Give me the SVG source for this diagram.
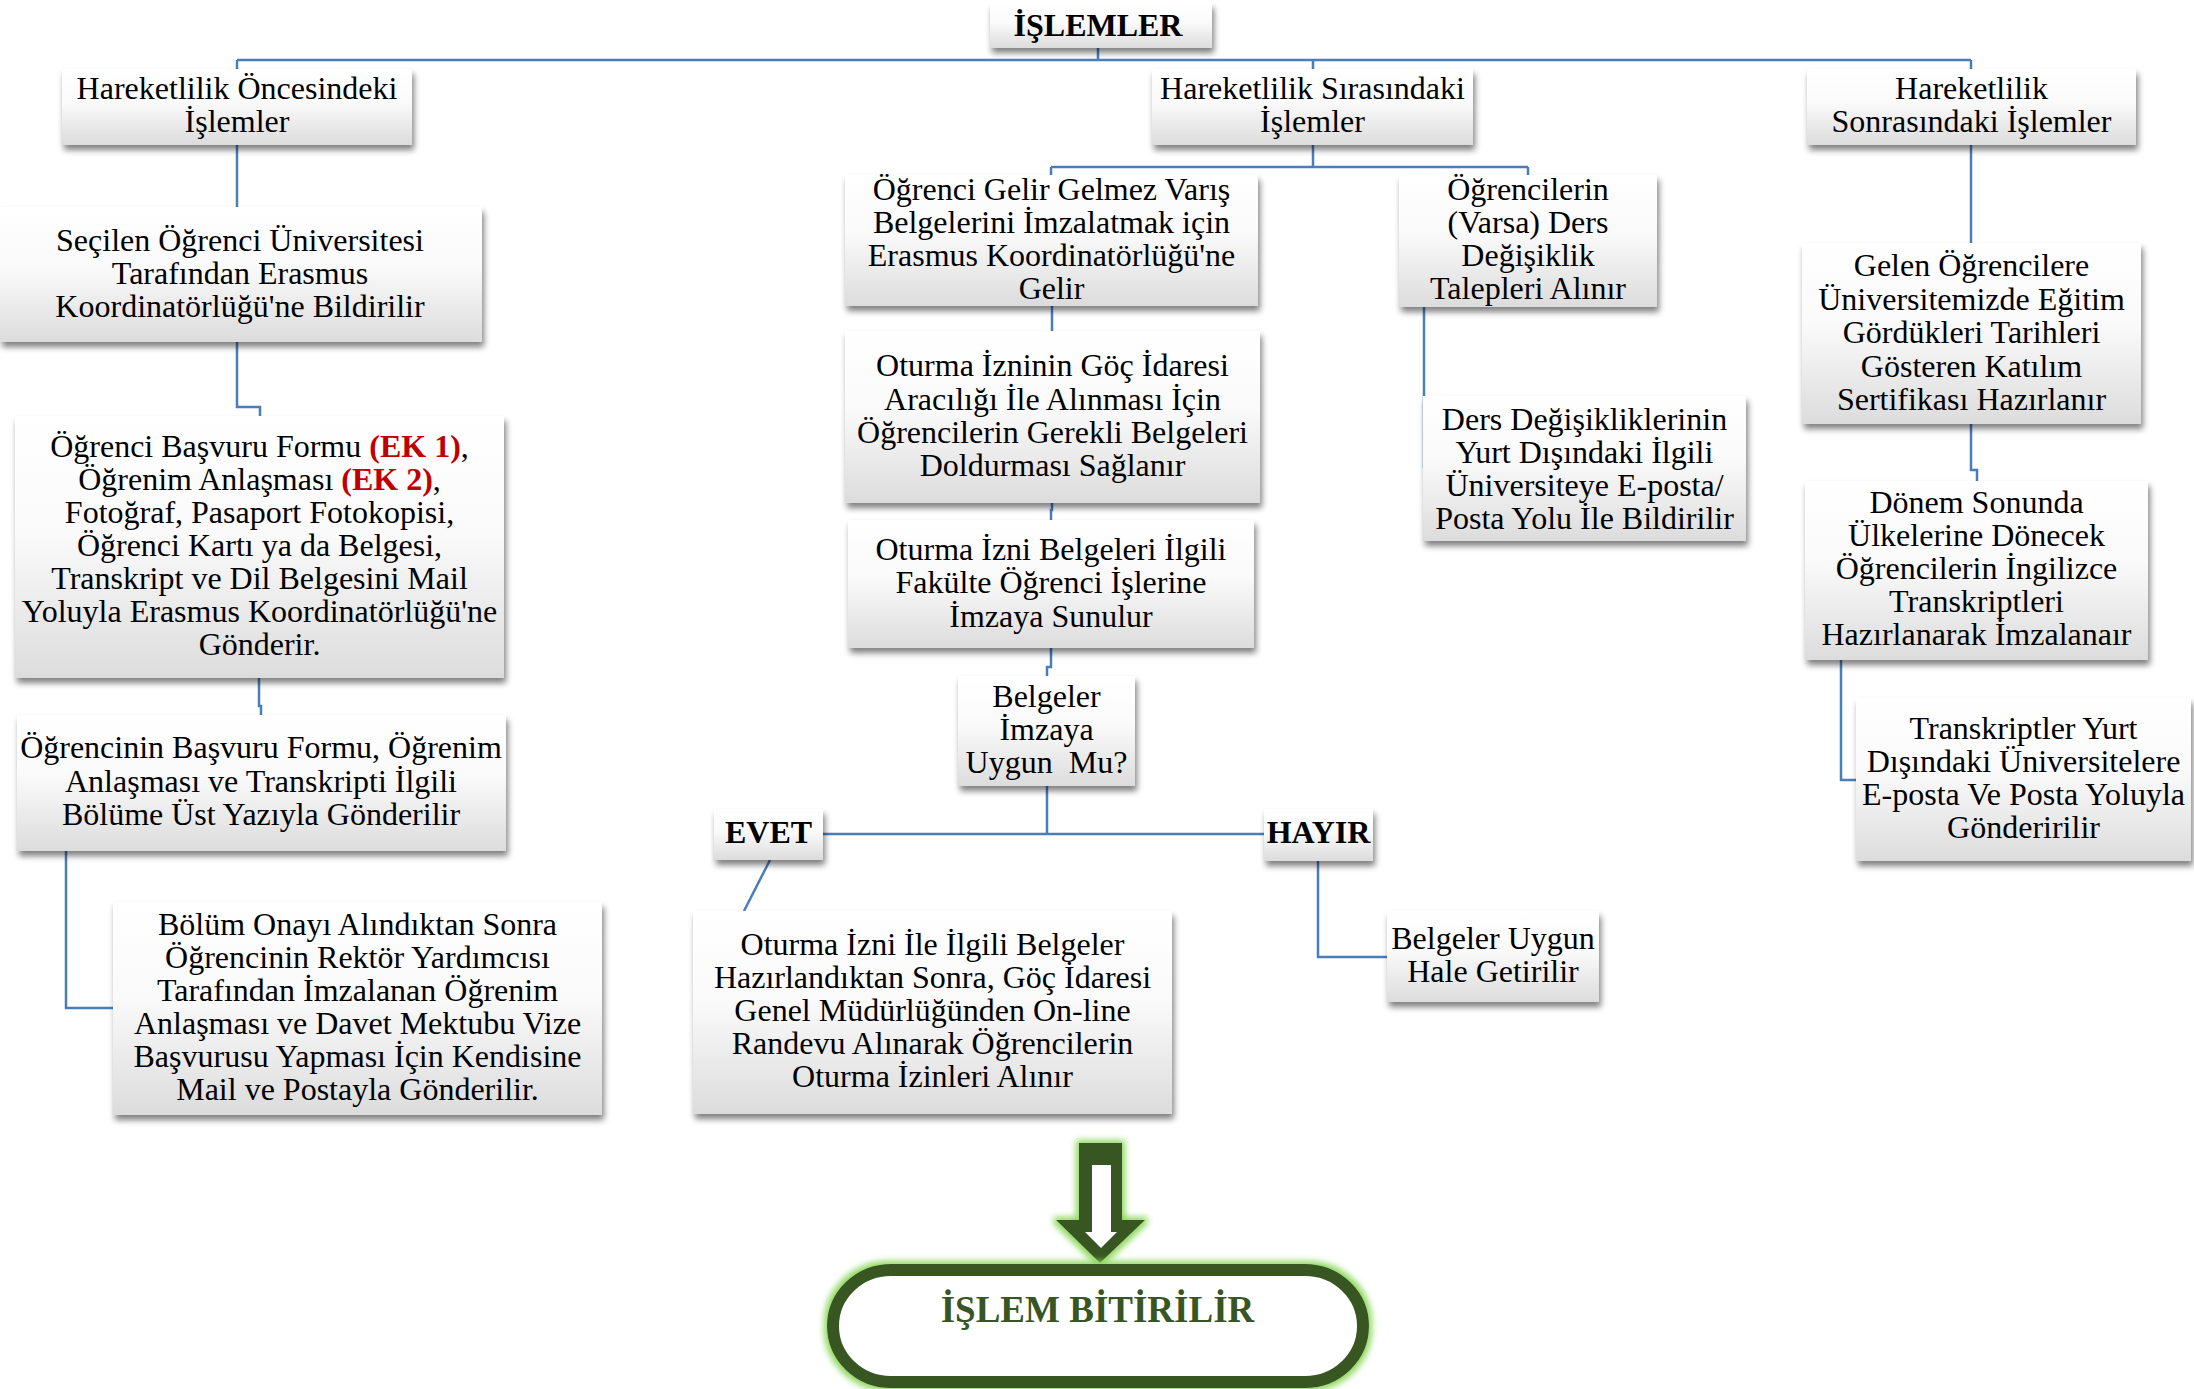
<svg xmlns="http://www.w3.org/2000/svg" width="2194" height="1389" viewBox="0 0 2194 1389">
<style>
.box{fill:url(#bg);filter:url(#sh)}
.t{font-family:'Liberation Serif','Times New Roman',serif;font-size:32px;text-anchor:middle;fill:#000}
.b{font-weight:bold}
.red{fill:#C00000;font-weight:bold}
.c{fill:none;stroke:#4A7EBB;stroke-width:2.5}
.g{fill:#375623}
</style>
<defs>
<linearGradient id="bg" x1="0" y1="0" x2="0" y2="1">
<stop offset="0" stop-color="#ffffff"/>
<stop offset="0.45" stop-color="#fafafa"/>
<stop offset="1" stop-color="#dcdcdc"/>
</linearGradient>
<filter id="sh" x="-5%" y="-10%" width="115%" height="135%">
<feGaussianBlur in="SourceAlpha" stdDeviation="3"/>
<feOffset dx="2" dy="5"/>
<feComponentTransfer><feFuncA type="linear" slope="0.5"/></feComponentTransfer>
<feMerge><feMergeNode/><feMergeNode in="SourceGraphic"/></feMerge>
</filter>
<filter id="glow" x="-20%" y="-20%" width="140%" height="140%">
<feMorphology in="SourceAlpha" operator="dilate" radius="3" result="d"/>
<feGaussianBlur in="d" stdDeviation="3" result="bl"/>
<feFlood flood-color="#8FD860"/>
<feComposite in2="bl" operator="in" result="gl"/>
<feMerge><feMergeNode in="gl"/><feMergeNode in="SourceGraphic"/></feMerge>
</filter>
</defs>
<rect width="2194" height="1389" fill="#fff"/>

<g id="connectors">
<path class="c" d="M1098,48V60M237,60H1971M237,60V69M1313,60V69M1971,60V69"/>
<path class="c" d="M237,145V207"/>
<path class="c" d="M237,342V407H260V416"/>
<path class="c" d="M259,678V706H261V715"/>
<path class="c" d="M66,851V1008H113"/>
<path class="c" d="M1313,145V167M1051,167H1528M1051,167V175M1528,167V175"/>
<path class="c" d="M1052,306V331"/>
<path class="c" d="M1052,503V510H1051V520"/>
<path class="c" d="M1051,648V667H1047V676"/>
<path class="c" d="M1047,786V834M823,834H1264"/>
<path class="c" d="M770,860L744,911"/>
<path class="c" d="M1318,861V957H1387"/>
<path class="c" d="M1424,307V468"/>
<path class="c" d="M1971,145V243"/>
<path class="c" d="M1971,424V470H1977V481"/>
<path class="c" d="M1841,660V780H1856"/>
</g>

<g id="n-islemler">
<rect class="box" x="990" y="3" width="222" height="45"/>
<text class="t b" x="1098" y="36">İŞLEMLER</text>
</g>

<g id="n-oncesi">
<rect class="box" x="62" y="69" width="350" height="76"/>
<text class="t" x="237" y="99">Hareketlilik Öncesindeki</text>
<text class="t" x="237" y="132">İşlemler</text>
</g>

<g id="n-secilen">
<rect class="box" x="0" y="207" width="482" height="135"/>
<text class="t" x="240" y="251">Seçilen Öğrenci Üniversitesi</text>
<text class="t" x="240" y="284">Tarafından Erasmus</text>
<text class="t" x="240" y="317">Koordinatörlüğü'ne Bildirilir</text>
</g>

<g id="n-basvuru">
<rect class="box" x="15" y="416" width="489" height="262"/>
<text class="t" x="259.5" y="457">Öğrenci Başvuru Formu <tspan class="red">(EK 1)</tspan>,</text>
<text class="t" x="259.5" y="490">Öğrenim Anlaşması <tspan class="red">(EK 2)</tspan>,</text>
<text class="t" x="259.5" y="523">Fotoğraf, Pasaport Fotokopisi,</text>
<text class="t" x="259.5" y="556">Öğrenci Kartı ya da Belgesi,</text>
<text class="t" x="259.5" y="589">Transkript ve Dil Belgesini Mail</text>
<text class="t" x="259.5" y="622">Yoluyla Erasmus Koordinatörlüğü'ne</text>
<text class="t" x="259.5" y="655">Gönderir.</text>
</g>

<g id="n-ogrencinin">
<rect class="box" x="17" y="715" width="489" height="136"/>
<text class="t" x="261" y="758">Öğrencinin Başvuru Formu, Öğrenim</text>
<text class="t" x="261" y="792">Anlaşması ve Transkripti İlgili</text>
<text class="t" x="261" y="825">Bölüme Üst Yazıyla Gönderilir</text>
</g>

<g id="n-bolum">
<rect class="box" x="113" y="902" width="489" height="213"/>
<text class="t" x="357.5" y="935">Bölüm Onayı Alındıktan Sonra</text>
<text class="t" x="357.5" y="968">Öğrencinin Rektör Yardımcısı</text>
<text class="t" x="357.5" y="1001">Tarafından İmzalanan Öğrenim</text>
<text class="t" x="357.5" y="1034">Anlaşması ve Davet Mektubu Vize</text>
<text class="t" x="357.5" y="1067">Başvurusu Yapması İçin Kendisine</text>
<text class="t" x="357.5" y="1100">Mail ve Postayla Gönderilir.</text>
</g>

<g id="n-sirasinda">
<rect class="box" x="1152" y="69" width="321" height="76"/>
<text class="t" x="1312.5" y="99">Hareketlilik Sırasındaki</text>
<text class="t" x="1312.5" y="132">İşlemler</text>
</g>

<g id="n-gelir">
<rect class="box" x="845" y="175" width="413" height="131"/>
<text class="t" x="1051.5" y="200">Öğrenci Gelir Gelmez Varış</text>
<text class="t" x="1051.5" y="233">Belgelerini İmzalatmak için</text>
<text class="t" x="1051.5" y="266">Erasmus Koordinatörlüğü'ne</text>
<text class="t" x="1051.5" y="299">Gelir</text>
</g>

<g id="n-varsa">
<rect class="box" x="1399" y="175" width="258" height="132"/>
<text class="t" x="1528" y="200">Öğrencilerin</text>
<text class="t" x="1528" y="233">(Varsa) Ders</text>
<text class="t" x="1528" y="266">Değişiklik</text>
<text class="t" x="1528" y="299">Talepleri Alınır</text>
</g>

<g id="n-izninin">
<rect class="box" x="845" y="331" width="415" height="172"/>
<text class="t" x="1052.5" y="376">Oturma İzninin Göç İdaresi</text>
<text class="t" x="1052.5" y="410">Aracılığı İle Alınması İçin</text>
<text class="t" x="1052.5" y="443">Öğrencilerin Gerekli Belgeleri</text>
<text class="t" x="1052.5" y="476">Doldurması Sağlanır</text>
</g>

<g id="n-belgeleri">
<rect class="box" x="848" y="520" width="406" height="128"/>
<text class="t" x="1051" y="560">Oturma İzni Belgeleri İlgili</text>
<text class="t" x="1051" y="593">Fakülte Öğrenci İşlerine</text>
<text class="t" x="1051" y="627">İmzaya Sunulur</text>
</g>

<g id="n-uygunmu">
<rect class="box" x="958" y="676" width="177" height="110"/>
<text class="t" x="1046.5" y="707">Belgeler</text>
<text class="t" x="1046.5" y="740">İmzaya</text>
<text class="t" x="1046.5" y="773" xml:space="preserve">Uygun  Mu?</text>
</g>

<g id="n-evet">
<rect class="box" x="714" y="809" width="109" height="51"/>
<text class="t b" x="768.5" y="843">EVET</text>
</g>

<g id="n-hayir">
<rect class="box" x="1264" y="809" width="109" height="52"/>
<text class="t b" x="1318.5" y="843">HAYIR</text>
</g>

<g id="n-randevu">
<rect class="box" x="693" y="911" width="479" height="203"/>
<text class="t" x="932.5" y="955">Oturma İzni İle İlgili Belgeler</text>
<text class="t" x="932.5" y="988">Hazırlandıktan Sonra, Göç İdaresi</text>
<text class="t" x="932.5" y="1021">Genel Müdürlüğünden On-line</text>
<text class="t" x="932.5" y="1054">Randevu Alınarak Öğrencilerin</text>
<text class="t" x="932.5" y="1087">Oturma İzinleri Alınır</text>
</g>

<g id="n-uygunhale">
<rect class="box" x="1387" y="911" width="212" height="91"/>
<text class="t" x="1493" y="949">Belgeler Uygun</text>
<text class="t" x="1493" y="982">Hale Getirilir</text>
</g>

<g id="n-ders">
<rect class="box" x="1423" y="396" width="323" height="145"/>
<text class="t" x="1584.5" y="430">Ders Değişikliklerinin</text>
<text class="t" x="1584.5" y="463">Yurt Dışındaki İlgili</text>
<text class="t" x="1584.5" y="496">Üniversiteye E-posta/</text>
<text class="t" x="1584.5" y="529">Posta Yolu İle Bildirilir</text>
</g>

<g id="n-sonrasi">
<rect class="box" x="1807" y="69" width="329" height="76"/>
<text class="t" x="1971.5" y="99">Hareketlilik</text>
<text class="t" x="1971.5" y="132">Sonrasındaki İşlemler</text>
</g>

<g id="n-gelen">
<rect class="box" x="1802" y="243" width="339" height="181"/>
<text class="t" x="1971.5" y="276">Gelen Öğrencilere</text>
<text class="t" x="1971.5" y="310">Üniversitemizde Eğitim</text>
<text class="t" x="1971.5" y="343">Gördükleri Tarihleri</text>
<text class="t" x="1971.5" y="377">Gösteren Katılım</text>
<text class="t" x="1971.5" y="410">Sertifikası Hazırlanır</text>
</g>

<g id="n-donem">
<rect class="box" x="1805" y="481" width="343" height="179"/>
<text class="t" x="1976.5" y="513">Dönem Sonunda</text>
<text class="t" x="1976.5" y="546">Ülkelerine Dönecek</text>
<text class="t" x="1976.5" y="579">Öğrencilerin İngilizce</text>
<text class="t" x="1976.5" y="612">Transkriptleri</text>
<text class="t" x="1976.5" y="645">Hazırlanarak İmzalanaır</text>
</g>

<g id="n-transkript">
<rect class="box" x="1856" y="698" width="335" height="163"/>
<text class="t" x="2023.5" y="739">Transkriptler Yurt</text>
<text class="t" x="2023.5" y="772">Dışındaki Üniversitelere</text>
<text class="t" x="2023.5" y="805">E-posta Ve Posta Yoluyla</text>
<text class="t" x="2023.5" y="838">Gönderirilir</text>
</g>

<g id="n-arrow" filter="url(#glow)">
<path class="g" d="M1079,1143H1122V1220H1145L1100,1263L1056,1220H1079Z"/>
<path fill="#ffffff" d="M1092,1165H1111V1232H1117L1101,1248L1085,1232H1092Z"/>
</g>

<g id="n-bitir">
<rect x="833" y="1270" width="530" height="112" rx="58" ry="56" fill="#fff" stroke="#375623" stroke-width="12" filter="url(#glow)"/>
<text class="t b" x="1097.5" y="1322" style="font-size:37px;fill:#375623">İŞLEM BİTİRİLİR</text>
</g>
</svg>
